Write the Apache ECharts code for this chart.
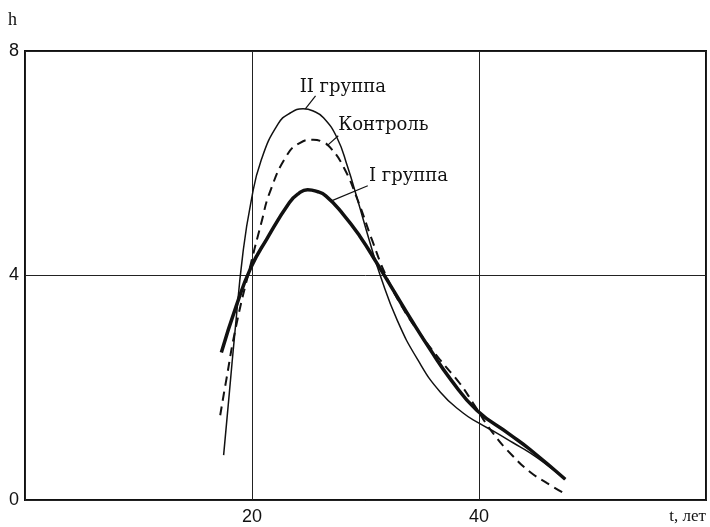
<!DOCTYPE html>
<html>
<head>
<meta charset="utf-8">
<script src="https://cdn.jsdelivr.net/npm/echarts@6/dist/echarts.min.js"></script>
<style>
html,body{margin:0;padding:0;background:#fff;}
#chart{width:710px;height:527px;}
</style>
</head>
<body>
<div id="chart"></div>
<script>
// ---- data (age in years, value) ----
const xTicks = [20, 40];
const yTicks = [0, 4, 8];

const group2 = [ // II группа (thin solid)
  [17.5,0.8],[18.0,1.9],[18.5,3.0],[19.2,4.4],[19.9,5.3],[20.8,6.05],
  [22.3,6.7],[23.4,6.9],[24.5,6.97],[25.4,6.93],[26.3,6.81],[27.5,6.45],[28.4,5.95],[29.3,5.35],
  [30.3,4.65],[31.3,4.0],[32.8,3.2],[34.6,2.5],[36.6,1.92],[38.6,1.55],
  [40.0,1.37],[41.5,1.2],[43.0,1.02],[44.5,0.84],[46.0,0.62],[47.6,0.37]
];
const control = [ // Контроль (dashed)
  [17.2,1.51],[17.7,2.1],[18.6,3.1],[19.9,4.21],[20.8,4.92],[21.6,5.5],
  [23.1,6.15],[24.2,6.36],[25.4,6.42],[26.2,6.38],[26.9,6.28],[28.1,5.92],[29.3,5.35],[30.6,4.62],
  [31.8,4.0],[33.2,3.45],[34.6,3.02],[36.6,2.49],[38.3,2.08],[39.5,1.72],
  [41.2,1.2],[43.0,0.78],[44.5,0.5],[46.0,0.3],[47.4,0.13]
];
const group1 = [ // I группа (thick)
  [17.3,2.63],[18.6,3.45],[19.9,4.14],[21.3,4.65],[23.3,5.3],[24.1,5.46],[24.9,5.53],
  [25.7,5.5],[26.5,5.42],[28.0,5.1],[29.5,4.7],[31.0,4.22],[32.5,3.72],[34.0,3.22],
  [35.7,2.68],[37.5,2.15],[39.8,1.6],[42.7,1.17],[44.5,0.9],[47.6,0.37]
];

// annotation texts with their leader lines (data units)
const annotations = [
  {text:'II группа', from:[24.7,6.97], to:[25.6,7.2], at:[24.2,7.36]},
  {text:'Контроль',  from:[26.6,6.31], to:[27.6,6.49], at:[27.6,6.68]},
  {text:'I группа',  from:[27.0,5.33], to:[30.2,5.6], at:[30.3,5.76]}
];

const chart = echarts.init(document.getElementById('chart'), null, {renderer:'canvas'});
const tickFont = 'Liberation Sans, Arial, sans-serif';
const serif = '"DejaVu Serif", "Liberation Serif", serif';

chart.setOption({
  animation:false,
  backgroundColor:'#fff',
  grid:{left:25, right:4, top:51, bottom:27, show:true, borderColor:'#111', borderWidth:2, backgroundColor:'transparent'},
  xAxis:{
    type:'value', min:0, max:60, interval:20,
    axisLine:{show:false}, axisTick:{show:false},
    splitLine:{show:true, lineStyle:{color:'#222', width:1}},
    axisLabel:{
      margin:8, color:'#111', fontSize:18, fontFamily:tickFont,
      formatter:v => xTicks.indexOf(v) >= 0 ? String(v) : ''
    }
  },
  yAxis:{
    type:'value', min:0, max:8, interval:4,
    axisLine:{show:false}, axisTick:{show:false},
    splitLine:{show:true, lineStyle:{color:'#222', width:1}},
    axisLabel:{
      margin:6, color:'#111', fontSize:18, fontFamily:tickFont,
      formatter:v => yTicks.indexOf(v) >= 0 ? String(v) : ''
    }
  },
  series:[
    {name:'II группа', type:'line', data:group2, smooth:0.5, symbol:'none',
     lineStyle:{color:'#111', width:1.5}},
    {name:'Контроль', type:'line', data:control, smooth:0.5, symbol:'none',
     lineStyle:{color:'#111', width:2, type:[9,6]}},
    {name:'I группа', type:'line', data:group1, smooth:0.5, symbol:'none',
     lineStyle:{color:'#111', width:3.5}}
  ]
});

const g = [];
annotations.forEach(a => {
  const p1 = chart.convertToPixel({gridIndex:0}, a.from);
  const p2 = chart.convertToPixel({gridIndex:0}, a.to);
  const pt = chart.convertToPixel({gridIndex:0}, a.at);
  g.push({type:'line', shape:{x1:p1[0], y1:p1[1], x2:p2[0], y2:p2[1]},
          style:{stroke:'#111', lineWidth:1.2}, z:10});
  g.push({type:'text', x:pt[0], y:pt[1],
          style:{text:a.text, fill:'#111', font:'18px ' + serif, textAlign:'left', textVerticalAlign:'middle'}, z:10});
});
g.push({type:'text', x:8, y:20, style:{text:'h', fill:'#111', font:'18px "Liberation Serif", serif', textAlign:'left', textVerticalAlign:'middle'}});
g.push({type:'text', x:706, y:517, style:{text:'t, лет', fill:'#111', font:'17px "Liberation Serif", serif', textAlign:'right', textVerticalAlign:'middle'}});
chart.setOption({graphic:g});
</script>
</body>
</html>
